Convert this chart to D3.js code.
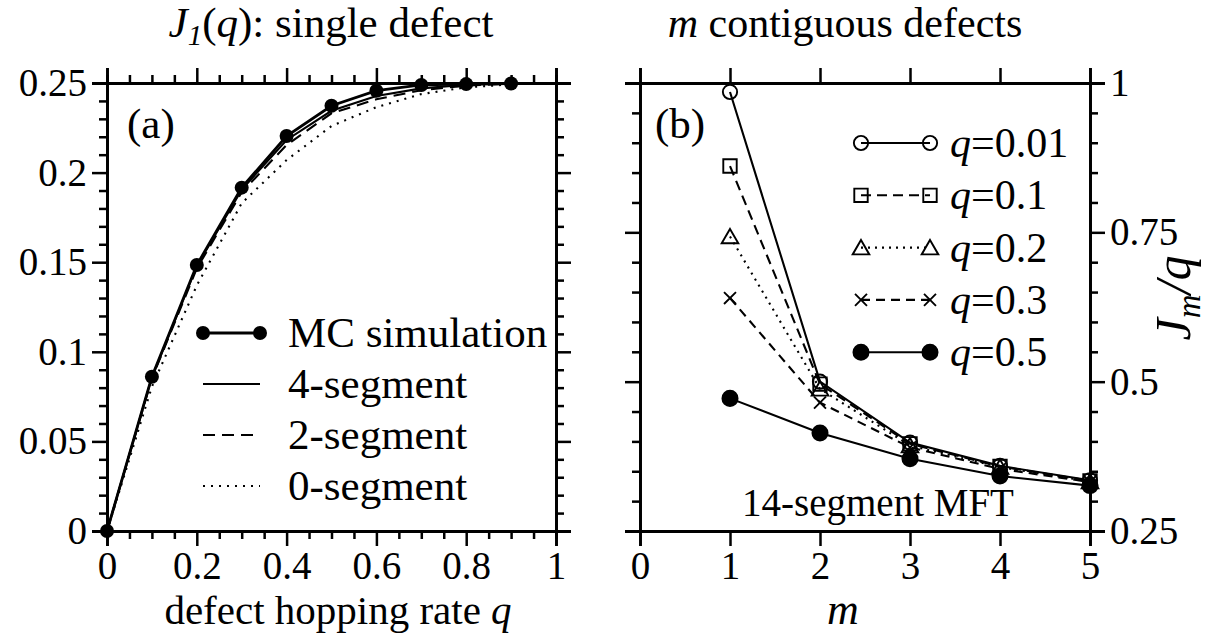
<!DOCTYPE html>
<html>
<head>
<meta charset="utf-8">
<script src="https://cdn.jsdelivr.net/npm/d3@7"></script>
<style>
body { margin: 0; background: #fff; }
</style>
</head>
<body>
<svg id="chart" width="1212" height="634"></svg>
<script>
// ---- panel (a): J_1(q), single defect ----
const qValues = [0, 0.1, 0.2, 0.3, 0.4, 0.5, 0.6, 0.7, 0.8, 0.9, 1];
const mcQ = [0, 0.1, 0.2, 0.3, 0.4, 0.5, 0.6, 0.7, 0.8, 0.9];
const mcValues = [0, 0.0861, 0.1484, 0.1916, 0.2204, 0.2373, 0.2457, 0.2489, 0.2494, 0.2497];
const seg4Values = [0, 0.0858, 0.1478, 0.1905, 0.2182, 0.2345, 0.2427, 0.2470, 0.2490, 0.2497, 0.25];
const seg2Values = [0, 0.0852, 0.1465, 0.1890, 0.2154, 0.2331, 0.2409, 0.2460, 0.2485, 0.2496, 0.25];
const seg0Values = [0, 0.0805, 0.1370, 0.1829, 0.2070, 0.2260, 0.2365, 0.2438, 0.2476, 0.2492, 0.25];
const aXTicks = [0, 0.2, 0.4, 0.6, 0.8, 1];
const aYTicks = [0, 0.05, 0.1, 0.15, 0.2, 0.25];

// ---- panel (b): J_m/q, m contiguous defects ----
const mValues = [1, 2, 3, 4, 5];
const q001Values = [0.985, 0.500, 0.398, 0.359, 0.335];
const q01Values = [0.861, 0.496, 0.396, 0.358, 0.334];
const q02Values = [0.743, 0.488, 0.393, 0.357, 0.333];
const q03Values = [0.640, 0.465, 0.390, 0.354, 0.332];
const q05Values = [0.472, 0.414, 0.371, 0.342, 0.326];
const bXTicks = [0, 1, 2, 3, 4, 5];
const bYTicks = [0.25, 0.5, 0.75, 1];

const FONT = '"Liberation Serif", Tinos, "Times New Roman", Times, "DejaVu Serif", serif';
const A = { LEFT: 107, RIGHT: 556, TOP: 83, BOTTOM: 531 };
const B = { LEFT: 640, RIGHT: 1090, TOP: 83, BOTTOM: 531 };
const MAJOR = 15, MINOR = 8;
const TICK_FONT = 39;

var svg = d3.select('#chart').attr('font-family', FONT);
var fmt = function (d) { return String(+d.toFixed(2)); };

function range (a, b, step) {
	var out = [];
	for (var i = 0; a + i * step <= b + 1e-9; i++) out.push(+(a + i * step).toFixed(4));
	return out;
}

function label (x, y, size) {
	return svg.append('text').attr('x', x).attr('y', y)
		.attr('font-family', FONT).style('font-size', size + 'px').attr('fill', '#000');
}

function drawAxes (x, y, P, opts) {
	var g = svg.append('g').attr('class', 'axes');
	var defs = [
		{ gen: d3.axisBottom, sc: x, at: 'translate(0,' + P.BOTTOM + ')' },
		{ gen: d3.axisTop, sc: x, at: 'translate(0,' + P.TOP + ')' },
		{ gen: d3.axisLeft, sc: y, at: 'translate(' + P.LEFT + ',0)' },
		{ gen: d3.axisRight, sc: y, at: 'translate(' + P.RIGHT + ',0)' }
	];
	defs.forEach(function (d, i) {
		var isX = i < 2;
		var minor = isX ? opts.xMinor : opts.yMinor;
		var major = isX ? opts.xMajor : opts.yMajor;
		if (minor.length) {
			g.append('g').attr('transform', d.at)
				.call(d.gen(d.sc).tickValues(minor).tickSize(MINOR).tickFormat(''));
		}
		var labelled = (i === 0) || (i === opts.yLabelSide);
		var ax = g.append('g').attr('transform', d.at)
			.call(d.gen(d.sc).tickValues(major).tickSize(MAJOR).tickPadding(5)
				.tickFormat(labelled ? fmt : ''));
		ax.attr('font-family', FONT).attr('font-size', null);
		ax.selectAll('text').attr('font-family', FONT).style('font-size', TICK_FONT + 'px').attr('fill', '#000');
		if (i === 0) ax.selectAll('text').attr('y', MAJOR + 4).attr('dy', 29);
	});
	g.selectAll('path.domain').attr('stroke', '#000').attr('stroke-width', 2.8);
	g.selectAll('line').attr('stroke', '#000').attr('stroke-width', 2.5);
}

// ---------- panel (a) ----------
var xa = d3.scaleLinear().domain([0, 1]).range([A.LEFT, A.RIGHT]);
var ya = d3.scaleLinear().domain([0, 0.25]).range([A.BOTTOM, A.TOP]);

drawAxes(xa, ya, A, {
	xMajor: aXTicks,
	xMinor: range(0, 1, 0.05).filter(function (v) { return aXTicks.indexOf(v) < 0; }),
	yMajor: aYTicks,
	yMinor: range(0, 0.25, 0.01).filter(function (v) { return aYTicks.indexOf(v) < 0; }),
	yLabelSide: 2
});

var lineA = d3.line().x(function (d) { return xa(d[0]); }).y(function (d) { return ya(d[1]); });
function zip (xs, ys) { return ys.map(function (v, i) { return [xs[i], v]; }); }

var curvesA = [
	{ values: seg0Values, dash: '2,6' },
	{ values: seg2Values, dash: '12,7' },
	{ values: seg4Values, dash: null }
];
curvesA.forEach(function (c) {
	svg.append('path').datum(zip(qValues, c.values))
		.attr('d', lineA).attr('fill', 'none').attr('stroke', '#000')
		.attr('stroke-width', 2.1).attr('stroke-dasharray', c.dash);
});
svg.append('path').datum(zip(mcQ, mcValues))
	.attr('d', lineA).attr('fill', 'none').attr('stroke', '#000').attr('stroke-width', 2.8);
svg.selectAll('.mc').data(zip(mcQ, mcValues)).enter().append('circle')
	.attr('class', 'mc')
	.attr('cx', function (d) { return xa(d[0]); })
	.attr('cy', function (d) { return ya(d[1]); })
	.attr('r', 7).attr('fill', '#000');

// legend (a)
var legA = [
	{ label: 'MC simulation', dash: null, dot: true },
	{ label: '4-segment', dash: null },
	{ label: '2-segment', dash: '12,7' },
	{ label: '0-segment', dash: '2,6' }
];
legA.forEach(function (l, i) {
	var yy = 333 + i * 51;
	svg.append('line').attr('x1', 203).attr('x2', 260).attr('y1', yy).attr('y2', yy)
		.attr('stroke', '#000').attr('stroke-width', l.dot ? 2.8 : 2.1).attr('stroke-dasharray', l.dash);
	if (l.dot) {
		[203, 260].forEach(function (cx) {
			svg.append('circle').attr('cx', cx).attr('cy', yy).attr('r', 7).attr('fill', '#000');
		});
	}
	label(288, yy + 14, 43).text(l.label);
});

label(127, 138, 43).text('(a)');

// titles for (a)
var tA = label(331, 37, 43).attr('text-anchor', 'middle');
tA.append('tspan').style('font-style', 'italic').text('J');
tA.append('tspan').style('font-style', 'italic').style('font-size', '29px').attr('dy', 8).text('1');
tA.append('tspan').attr('dy', -8).text('(');
tA.append('tspan').style('font-style', 'italic').text('q');
tA.append('tspan').text('): single defect');

var xtA = label(338, 624, 41).attr('text-anchor', 'middle');
xtA.append('tspan').text('defect hopping rate ');
xtA.append('tspan').style('font-style', 'italic').text('q');

// ---------- panel (b) ----------
var xb = d3.scaleLinear().domain([0, 5]).range([B.LEFT, B.RIGHT]);
var yb = d3.scaleLinear().domain([0.25, 1]).range([B.BOTTOM, B.TOP]);

drawAxes(xb, yb, B, {
	xMajor: bXTicks,
	xMinor: [],
	yMajor: bYTicks,
	yMinor: range(0.25, 1, 0.05).filter(function (v) { return bYTicks.indexOf(v) < 0; }),
	yLabelSide: 3
});

var lineB = d3.line().x(function (d) { return xb(d[0]); }).y(function (d) { return yb(d[1]); });

var sym = {
	circle: d3.symbol().type(d3.symbolCircle).size(160),
	square: d3.symbol().type(d3.symbolSquare).size(180),
	triangle: d3.symbol().type(d3.symbolTriangle).size(120),
	cross: d3.symbol().type(d3.symbolTimes).size(95),
	dot: d3.symbol().type(d3.symbolCircle).size(180)
};

var seriesB = [
	{ label: '0.01', values: q001Values, dash: null, marker: 'circle', fill: 'none' },
	{ label: '0.1', values: q01Values, dash: '10,6', marker: 'square', fill: 'none' },
	{ label: '0.2', values: q02Values, dash: '2,5', marker: 'triangle', fill: 'none' },
	{ label: '0.3', values: q03Values, dash: '9,6', marker: 'cross', fill: 'none' },
	{ label: '0.5', values: q05Values, dash: null, marker: 'dot', fill: '#000' }
];

function drawMarker (s, cx, cy) {
	return svg.append('path').attr('d', sym[s.marker]())
		.attr('transform', 'translate(' + cx + ',' + cy + ')' + (s.marker === 'triangle' ? ' translate(0,2)' : ''))
		.attr('fill', s.fill).attr('stroke', '#000').attr('stroke-width', 1.9);
}

seriesB.forEach(function (s) {
	svg.append('path').datum(zip(mValues, s.values))
		.attr('d', lineB).attr('fill', 'none').attr('stroke', '#000')
		.attr('stroke-width', 2.1).attr('stroke-dasharray', s.dash);
});
seriesB.forEach(function (s) {
	s.values.forEach(function (v, i) { drawMarker(s, xb(mValues[i]), yb(v)); });
});

// legend (b)
seriesB.forEach(function (s, i) {
	var yy = 143 + i * 52.3;
	svg.append('line').attr('x1', 861).attr('x2', 930).attr('y1', yy).attr('y2', yy)
		.attr('stroke', '#000').attr('stroke-width', 2.1).attr('stroke-dasharray', s.dash);
	drawMarker(s, 861, yy);
	drawMarker(s, 930, yy);
	var t = label(950, yy + 14, 42);
	t.append('tspan').style('font-style', 'italic').text('q');
	t.append('tspan').text('=' + s.label);
});

label(655, 138, 43).text('(b)');
label(878, 516, 39).attr('text-anchor', 'middle').text('14-segment MFT');

var tB = label(845, 37, 42).attr('text-anchor', 'middle');
tB.append('tspan').style('font-style', 'italic').text('m');
tB.append('tspan').text(' contiguous defects');

label(843, 624, 44).attr('text-anchor', 'middle').style('font-style', 'italic').text('m');

var yt = label(0, 0, 50).attr('transform', 'translate(1190,298) rotate(-90)')
	.attr('text-anchor', 'middle').style('font-style', 'italic');
yt.append('tspan').text('J');
yt.append('tspan').style('font-size', '33px').attr('dy', 10).text('m');
yt.append('tspan').attr('dy', -10).text('/q');
</script>
</body>
</html>
